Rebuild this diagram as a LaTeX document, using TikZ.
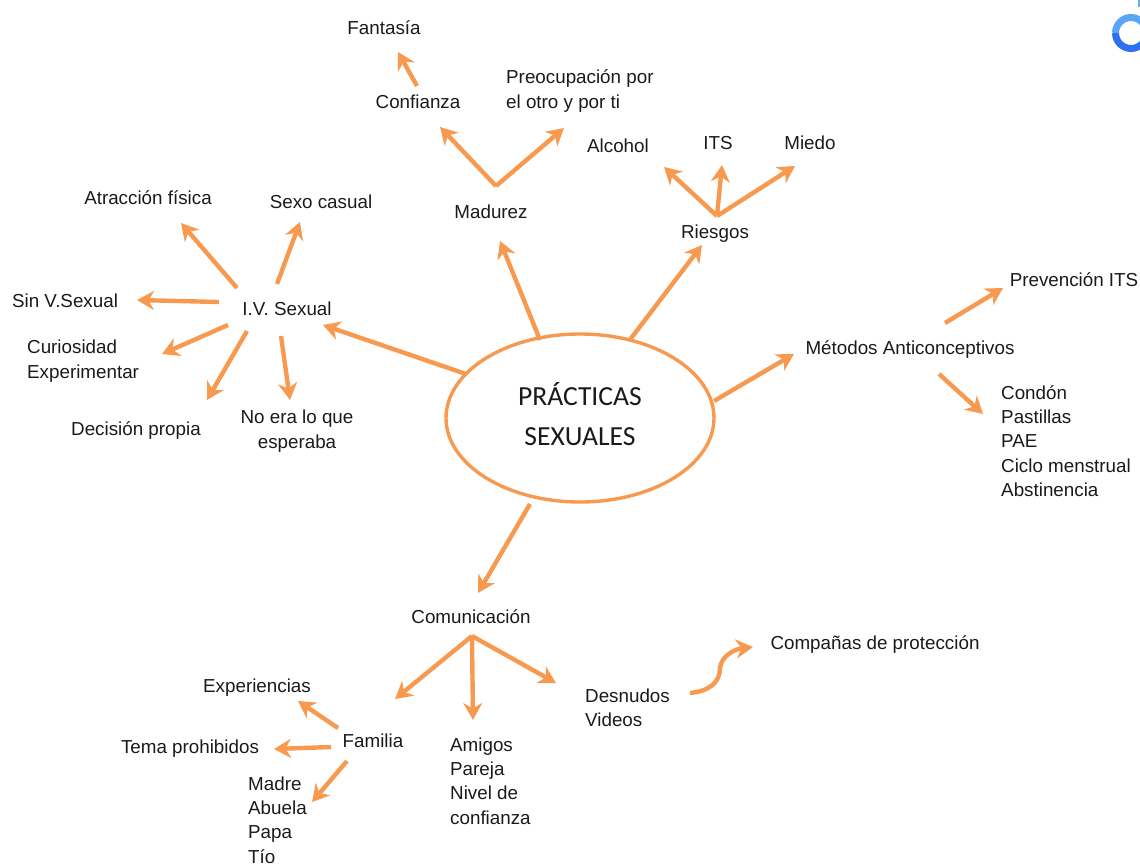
\documentclass[tikz,border=0pt]{standalone}
\usepackage{fontspec}
\setmainfont{Liberation Sans}
\newfontfamily\titlefont{Carlito}
\usetikzlibrary{arrows.meta,calc,shapes.geometric}
\definecolor{orangeline}{HTML}{F79A50}
\definecolor{inktext}{HTML}{1A1A1A}
\definecolor{logodark}{HTML}{2F70F0}
\definecolor{logolight}{HTML}{5AA5F5}
\definecolor{logomark}{HTML}{6EAAEB}
\tikzset{
  lbl/.style={inner sep=0pt,text=inktext,font=\fontsize{18.8}{24.4}\selectfont,align=left},
  leftlbl/.style={lbl,anchor=west},
  conn/.style={draw=orangeline,line width=4.4pt,-{Stealth[length=17pt,width=19pt,inset=5.5pt]}},
  hub/.style={ellipse,draw=orangeline,line width=3.4pt,fill=white,minimum width=268pt,minimum height=168pt,inner sep=0pt},
}
\begin{document}
\begin{tikzpicture}[x=1pt,y=-1pt]
\useasboundingbox (0,0) rectangle (1140,865);
% logo
\begin{scope}
\clip (0,0) rectangle (1140,865);
\draw[line width=7pt,draw=logodark] (1115.5,33) arc[start angle=180,end angle=360,radius=15.5pt];
\draw[line width=7pt,draw=logolight] (1115.5,33) arc[start angle=180,end angle=0,radius=15.5pt];
\fill[logomark] (1138,0) rectangle (1140,7);
\end{scope}
% centre
\node[hub] (e) at (580,418) {};
\node[inner sep=0pt,text=inktext,font=\titlefont\fontsize{27.6}{40}\selectfont,align=center] (title) at (580,414) {PRÁCTICAS\\SEXUALES};
% labels
\node[lbl] (fant) at (384,28) {Fantasía};
\node[lbl] (conf) at (418,102) {Confianza};
\node[leftlbl] (preo) at (506,91) {Preocupación por\\el otro y por ti};
\node[lbl] (alc) at (618,146) {Alcohol};
\node[lbl] (its) at (718,143) {ITS};
\node[lbl] (miedo) at (810,143) {Miedo};
\node[lbl] (ries) at (715,234) {Riesgos};
\node[lbl] (mad) at (491,212) {Madurez};
\node[lbl] (atr) at (148,198) {Atracción física};
\node[lbl] (casual) at (321,202) {Sexo casual};
\node[lbl] (sinv) at (65,301) {Sin V.Sexual};
\node[lbl] (iv) at (287,309) {I.V. Sexual};
\node[leftlbl] (cur) at (27,361) {Curiosidad\\Experimentar};
\node[lbl] (dec) at (136,431) {Decisión propia};
\node[lbl,align=center] (noera) at (297,431) {No era lo que\\esperaba};
\node[lbl] (prev) at (1074,280) {Prevención ITS};
\node[lbl] (met) at (910,350) {Métodos Anticonceptivos};
\node[leftlbl] (cond) at (1001,441) {Condón\\Pastillas\\PAE\\Ciclo menstrual\\Abstinencia};
\node[lbl] (com) at (471,617) {Comunicación};
\node[lbl] (exp) at (257,688) {Experiencias};
\node[lbl] (fam) at (373,741) {Familia};
\node[lbl] (tema) at (190,749) {Tema prohibidos};
\node[leftlbl] (madre) at (248,820) {Madre\\Abuela\\Papa\\Tío};
\node[leftlbl] (amigos) at (450,781) {Amigos\\Pareja\\Nivel de\\confianza};
\node[leftlbl] (desn) at (585,708) {Desnudos\\Videos};
\node[lbl] (camp) at (875,645) {Compañas de protección};
% connectors
\draw[conn] ($(e)+(-114,-44)$) -- ($(iv)+(36,16)$);
\draw[conn] ($(e)+(-40,-78)$) -- ($(mad)+(9,29)$);
\draw[conn] ($(e)+(49,-77)$) -- ($(ries)+(-13,11)$);
\draw[conn] ($(e)+(134,-17)$) -- ($(met)+(-116,4)$);
\draw[conn] ($(e)+(-50,86)$) -- ($(com)+(7,-24)$);
\draw[conn] ($(iv)+(-50,-21)$) -- ($(atr)+(33,25)$);
\draw[conn] ($(iv)+(-10,-25)$) -- ($(casual)+(-21,20)$);
\draw[conn] ($(iv)+(-68,-7)$) -- ($(sinv)+(72,-1)$);
\draw[conn] ($(iv)+(-59,16)$) -- ($(cur.west)+(135,-7)$);
\draw[conn] ($(iv)+(-40,22)$) -- ($(dec)+(71,-31)$);
\draw[conn] ($(iv)+(-6,27)$) -- ($(noera)+(-7,-31)$);
\draw[conn] ($(mad)+(5,-26)$) -- ($(conf)+(22,25)$);
\draw[conn] ($(mad)+(5,-26)$) -- ($(preo.west)+(58,37)$);
\draw[conn] ($(conf)+(-1,-16)$) -- ($(fant)+(14,24)$);
\draw[conn] ($(ries)+(2,-18)$) -- ($(alc)+(46,21)$);
\draw[conn] ($(ries)+(2,-18)$) -- ($(its)+(4,22)$);
\draw[conn] ($(ries)+(2,-18)$) -- ($(miedo)+(-15,23)$);
\draw[conn] ($(met)+(35,-27)$) -- ($(prev)+(-71,8)$);
\draw[conn] ($(met)+(29,24)$) -- ($(cond.west)+(-18,-27)$);
\draw[conn] ($(com)+(1,19)$) -- ($(fam)+(22,-42)$);
\draw[conn] ($(com)+(1,19)$) -- ($(amigos.west)+(23,-61)$);
\draw[conn] ($(com)+(1,19)$) -- ($(desn.west)+(-29,-25)$);
\draw[conn] ($(fam)+(-35,-13)$) -- ($(exp)+(41,13)$);
\draw[conn] ($(fam)+(-42,6)$) -- ($(tema)+(84,0)$);
\draw[conn] ($(fam)+(-26,20)$) -- ($(madre.west)+(64,-18)$);
\draw[conn] ($(desn.west)+(105,-15)$) .. controls ($(desn.west)+(125,-17)$) and ($(desn.west)+(135,-26)$) .. ($(desn.west)+(135,-40)$) .. controls ($(desn.west)+(136,-52)$) and ($(camp)+(-140,4)$) .. ($(camp)+(-122,2)$);
\end{tikzpicture}
\end{document}
